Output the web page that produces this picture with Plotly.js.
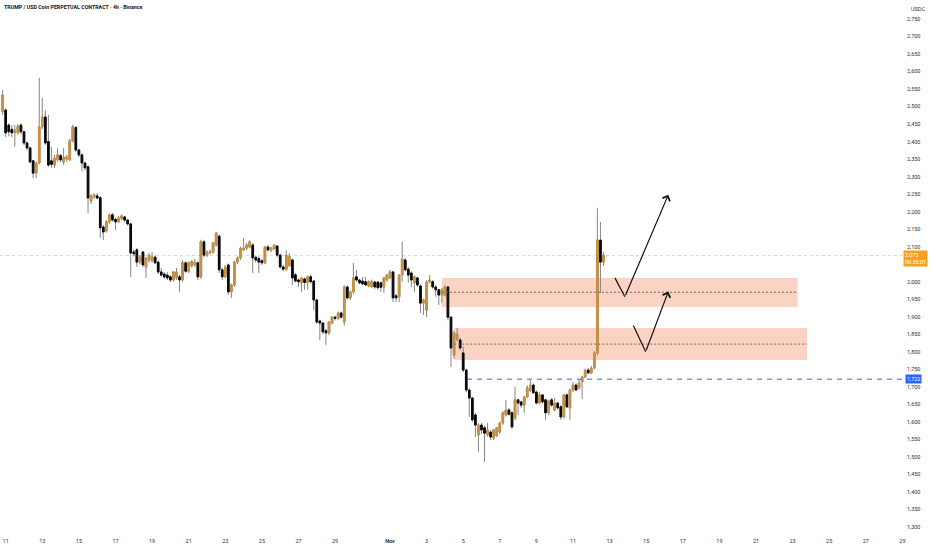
<!DOCTYPE html>
<html>
<head>
<meta charset="utf-8">
<script src="https://cdn.plot.ly/plotly-3.0.1.min.js"></script>
<style>
  html, body { margin: 0; padding: 0; background: #ffffff; }
  #chart { width: 932px; height: 550px; }
</style>
</head>
<body>
<div id="chart"></div>
<script>
// 4h candles, first candle opens 2025-10-10 20:00
const firstCandle = '2025-10-10T20:00:00Z';
const candleHours = 4;

const openP = [
2485,2490,2447,2435,2425,2425,2447,2428,2396,2382,2345,2310,2339,2442,2470,2400,2345,2333,2348,2360,
2342,2350,2348,2402,2440,2376,2362,2339,2328,2230,2242,2245,2240,2156,2145,2171,2191,2178,2171,2180,
2185,2176,2165,2085,2091,2056,2085,2042,2062,2060,2070,2056,2028,2022,2019,2014,2005,2011,2014,2005,
2054,2030,2045,2048,2054,2014,2114,2076,2082,2085,2105,2130,2034,2014,2048,1971,1991,2056,2068,2091,
2096,2099,2105,2070,2066,2060,2054,2099,2090,2094,2102,2076,2042,2036,2045,2062,2020,2005,1998,2008,
1997,2014,2002,1948,1888,1882,1860,1854,1882,1899,1895,1911,1885,1985,1954,1971,2014,2005,2002,2000,
1988,1986,1999,1999,1997,1985,2005,2011,2028,1960,1957,2019,2062,2036,2025,1997,2011,1988,1939,1919,
1999,2000,1985,1977,1962,1962,1985,1899,1790,1836,1834,1797,1748,1691,1668,1620,1563,1591,1583,1563,
1571,1554,1560,1571,1597,1620,1634,1626,1611,1663,1657,1648,1671,1690,1705,1685,1654,1677,1663,1626,
1663,1634,1654,1643,1614,1677,1640,1691,1705,1697,1714,1728,1748,1740,1754,1797,2119,2056];

const highP = [
2547,2495,2452,2447,2447,2450,2452,2430,2400,2385,2348,2342,2582,2525,2490,2476,2385,2362,2380,2365,
2382,2362,2408,2448,2445,2380,2366,2342,2332,2250,2252,2253,2244,2162,2176,2195,2196,2182,2188,2192,
2188,2178,2168,2092,2096,2076,2088,2070,2082,2085,2076,2060,2039,2028,2028,2019,2031,2039,2020,2062,
2058,2058,2062,2065,2058,2120,2118,2090,2092,2114,2142,2134,2040,2048,2052,1995,2060,2072,2100,2125,
2111,2119,2110,2075,2072,2065,2102,2105,2100,2108,2105,2080,2048,2090,2082,2066,2025,2010,2014,2012,
2018,2020,2005,1952,1892,1885,1865,1888,1902,1903,1915,1915,1990,1990,1975,2054,2034,2008,2014,2014,
2004,2006,2003,2002,2000,2014,2022,2034,2030,1965,2022,2114,2068,2042,2030,2018,2014,1992,1952,2005,
2019,2005,1990,1980,1982,1990,1988,1902,1860,1868,1840,1815,1752,1695,1672,1626,1597,1597,1590,1597,
1577,1580,1586,1600,1630,1663,1640,1630,1700,1666,1660,1675,1705,1720,1710,1690,1685,1680,1666,1663,
1668,1668,1657,1648,1680,1682,1695,1714,1710,1720,1732,1752,1754,1760,1802,2211,2171,2085];

const lowP = [
2476,2413,2415,2413,2385,2420,2420,2390,2375,2338,2296,2296,2335,2435,2390,2328,2325,2325,2342,2340,
2333,2342,2345,2398,2370,2355,2315,2318,2196,2222,2236,2235,2125,2119,2140,2165,2172,2148,2168,2175,
2170,2160,2014,2072,2042,2050,2042,2011,2054,2055,2050,2022,2014,2008,2005,1999,2000,2005,1971,2000,
2025,2025,2040,2042,2005,2008,2070,2070,2078,2080,2100,2025,2005,2010,1962,1954,1985,2050,2062,2088,
2090,2095,2025,2055,2025,2048,2050,2086,2085,2090,2070,2038,2030,2030,2058,1991,1998,1985,1971,1977,
1977,1995,1919,1880,1834,1850,1820,1848,1878,1890,1890,1894,1875,1950,1948,1965,2000,1993,1990,1988,
1984,1982,1980,1978,1971,1968,2000,2008,1942,1942,1942,2000,2030,1997,1985,1971,1985,1911,1905,1899,
1995,1980,1957,1934,1940,1958,1890,1757,1780,1830,1805,1742,1685,1614,1600,1557,1514,1565,1486,1558,
1548,1548,1557,1566,1592,1615,1618,1580,1605,1620,1640,1626,1668,1685,1680,1650,1650,1652,1606,1620,
1643,1630,1635,1606,1610,1640,1606,1685,1688,1692,1665,1725,1736,1736,1750,1790,1968,2045];

const closeP = [
2533,2425,2428,2425,2433,2444,2428,2396,2382,2342,2310,2339,2442,2470,2396,2333,2335,2353,2362,2348,
2355,2356,2402,2442,2376,2362,2339,2325,2239,2245,2248,2239,2154,2142,2171,2191,2176,2171,2182,2188,
2176,2165,2082,2080,2056,2071,2048,2068,2076,2071,2054,2028,2019,2014,2011,2005,2028,2028,2005,2054,
2030,2054,2058,2056,2014,2114,2076,2085,2085,2111,2139,2034,2014,2042,1971,1991,2056,2068,2096,2096,
2105,2114,2068,2062,2056,2054,2099,2091,2096,2104,2076,2042,2036,2076,2072,2011,2002,2000,2011,1998,
2014,2000,1948,1885,1882,1857,1854,1885,1899,1896,1911,1899,1985,1954,1971,2011,2005,1997,1994,1991,
2000,2001,1985,1983,1984,2011,2019,2028,1954,1954,2019,2065,2034,2019,2005,2014,1991,1939,1948,1999,
2005,1985,1977,1962,1977,1985,1899,1811,1854,1850,1811,1748,1691,1668,1606,1591,1591,1577,1568,1577,
1557,1577,1583,1597,1626,1634,1622,1586,1663,1654,1648,1671,1697,1705,1683,1654,1677,1657,1626,1660,
1648,1654,1640,1614,1677,1643,1691,1705,1691,1711,1728,1748,1740,1754,1797,2119,2056,2075];

const xTickVals = ['2025-10-11','2025-10-13','2025-10-15','2025-10-17','2025-10-19','2025-10-21','2025-10-23',
  '2025-10-25','2025-10-27','2025-10-29','2025-11-01','2025-11-03','2025-11-05','2025-11-07','2025-11-09',
  '2025-11-11','2025-11-13','2025-11-15','2025-11-17','2025-11-19','2025-11-21','2025-11-23','2025-11-25',
  '2025-11-27','2025-11-29'];
const xTickText = ['11','13','15','17','19','21','23','25','27','29','<b>Nov</b>','3','5','7','9',
  '11','13','15','17','19','21','23','25','27','29'];
const priceTicks = [1300,1350,1400,1450,1500,1550,1600,1650,1700,1750,1800,1850,1900,1950,2000,
  2100,2150,2200,2250,2300,2350,2400,2450,2500,2550,2600,2650,2700,2750];

const lastPrice = 2075;
const lastPriceLabel = '2,075';
const countdown = '00:35:01';
const supportLevel = 1722;
const supportLabel = '1,722';
const upperZone = {x0: '2025-11-03 20:00', x1: '2025-11-23 06:40', lo: 1928, hi: 2011, mid: 1970};
const lowerZone = {x0: '2025-11-04 12:20', x1: '2025-11-23 19:00', lo: 1777, hi: 1868, mid: 1822};
const pathUpper = {x: ['2025-11-13 07:00','2025-11-13 20:00','2025-11-16 05:00'], y: [2011, 1957, 2248]};
const pathLower = {x: ['2025-11-14 07:10','2025-11-14 23:20','2025-11-16 05:00'], y: [1875, 1800, 1972]};

const t0 = Date.parse(firstCandle);
const times = openP.map((_, i) => new Date(t0 + i * candleHours * 3600000).toISOString().slice(0, 16).replace('T', ' '));
const bodyHigh = openP.map((o, i) => Math.max(o, closeP[i]));
const bodyLow = openP.map((o, i) => Math.min(o, closeP[i]));

const UP = '#c8913f', DOWN = '#0a0a0a', WICK = '#858585';
const xRange = ['2025-10-10 16:32', '2025-11-29 03:26'];

const wicks = {
  type: 'candlestick', x: times, open: openP, high: highP, low: lowP, close: closeP,
  increasing: {line: {color: WICK, width: 1}, fillcolor: WICK},
  decreasing: {line: {color: WICK, width: 1}, fillcolor: WICK},
  whiskerwidth: 0, hoverinfo: 'skip', showlegend: false
};
const bodies = {
  type: 'candlestick', x: times, open: openP, high: bodyHigh, low: bodyLow, close: closeP,
  increasing: {line: {color: UP, width: 1}, fillcolor: UP},
  decreasing: {line: {color: DOWN, width: 1}, fillcolor: DOWN},
  whiskerwidth: 0, showlegend: false
};

const shapes = [
  {type: 'rect', xref: 'x', yref: 'y', x0: upperZone.x0, x1: upperZone.x1, y0: upperZone.lo, y1: upperZone.hi,
   fillcolor: 'rgba(242,150,110,0.42)', line: {width: 0}, layer: 'below'},
  {type: 'rect', xref: 'x', yref: 'y', x0: lowerZone.x0, x1: lowerZone.x1, y0: lowerZone.lo, y1: lowerZone.hi,
   fillcolor: 'rgba(242,150,110,0.42)', line: {width: 0}, layer: 'below'},
  {type: 'line', xref: 'x', yref: 'y', x0: upperZone.x0, x1: upperZone.x1, y0: upperZone.mid, y1: upperZone.mid,
   line: {color: '#7d625a', width: 1, dash: '2px,2px'}},
  {type: 'line', xref: 'x', yref: 'y', x0: lowerZone.x0, x1: lowerZone.x1, y0: lowerZone.mid, y1: lowerZone.mid,
   line: {color: '#7d625a', width: 1, dash: '2px,2px'}},
  {type: 'line', xref: 'x', yref: 'y', x0: xRange[0], x1: xRange[1], y0: lastPrice, y1: lastPrice,
   line: {color: 'rgba(245,160,60,0.45)', width: 1, dash: 'dot'}, layer: 'below'},
  {type: 'line', xref: 'x', yref: 'y', x0: '2025-11-05 05:00', x1: xRange[1], y0: supportLevel, y1: supportLevel,
   line: {color: '#3d63e0', width: 1, dash: '5px,5px'}},
  {type: 'line', xref: 'x', yref: 'y', x0: pathUpper.x[0], x1: pathUpper.x[1], y0: pathUpper.y[0], y1: pathUpper.y[1],
   line: {color: '#111', width: 1.2}},
  {type: 'line', xref: 'x', yref: 'y', x0: pathLower.x[0], x1: pathLower.x[1], y0: pathLower.y[0], y1: pathLower.y[1],
   line: {color: '#111', width: 1.2}}
];

const FONT = 'Roboto, "Liberation Sans", sans-serif';
const annotations = [
  {xref: 'paper', yref: 'paper', x: 0, y: 1, xanchor: 'left', yanchor: 'top', xshift: 2, yshift: -2,
   text: '<b>TRUMP / USD Coin PERPETUAL CONTRACT · 4h · Binance</b>', showarrow: false,
   font: {family: FONT, size: 5.3, color: '#131722'}},
  {xref: 'paper', yref: 'paper', x: 1, y: 1, xanchor: 'left', yanchor: 'top', xshift: 4, yshift: -4,
   text: 'USDC', showarrow: false, font: {family: FONT, size: 5.5, color: '#333'}},
  {xref: 'paper', yref: 'y', x: 1, y: lastPrice, xanchor: 'left', yanchor: 'top', xshift: -2, yshift: 5,
   text: lastPriceLabel + '<br>' + countdown, showarrow: false, bgcolor: '#f7a11a', borderpad: 1,
   align: 'left', font: {family: FONT, size: 5.5, color: '#ffffff'}},
  {xref: 'paper', yref: 'y', x: 1, y: supportLevel, xanchor: 'left', yanchor: 'middle', xshift: 0,
   text: supportLabel, showarrow: false, bgcolor: '#2962ff', borderpad: 1,
   font: {family: FONT, size: 5.5, color: '#ffffff'}},
  {xref: 'x', yref: 'y', axref: 'x', ayref: 'y', x: pathUpper.x[2], y: pathUpper.y[2],
   ax: pathUpper.x[1], ay: pathUpper.y[1], showarrow: true, arrowhead: 4, arrowsize: 1.3, arrowwidth: 1.2,
   arrowcolor: '#111', text: ''},
  {xref: 'x', yref: 'y', axref: 'x', ayref: 'y', x: pathLower.x[2], y: pathLower.y[2],
   ax: pathLower.x[1], ay: pathLower.y[1], showarrow: true, arrowhead: 4, arrowsize: 1.3, arrowwidth: 1.2,
   arrowcolor: '#111', text: ''}
];

const layout = {
  width: 932, height: 550,
  margin: {l: 0, r: 27, t: 0, b: 17, pad: 0},
  paper_bgcolor: '#ffffff', plot_bgcolor: '#ffffff',
  showlegend: false, boxgap: 0.25,
  font: {family: FONT, size: 5.5, color: '#333'},
  xaxis: {
    type: 'date', range: xRange, rangeslider: {visible: false},
    showgrid: false, zeroline: false, showline: false, ticks: '',
    tickmode: 'array', tickvals: xTickVals, ticktext: xTickText,
    tickfont: {family: FONT, size: 5.5, color: '#333'}, ticklabelstandoff: 3
  },
  yaxis: {
    range: [1283, 2804], side: 'right', showgrid: false, zeroline: false, showline: false, ticks: '',
    tickmode: 'array', tickvals: priceTicks, tickformat: ',d',
    tickfont: {family: FONT, size: 5.5, color: '#333'}, ticklabelstandoff: 1
  },
  shapes: shapes,
  annotations: annotations
};

Plotly.newPlot('chart', [wicks, bodies], layout, {displayModeBar: false, staticPlot: true});
</script>
</body>
</html>
